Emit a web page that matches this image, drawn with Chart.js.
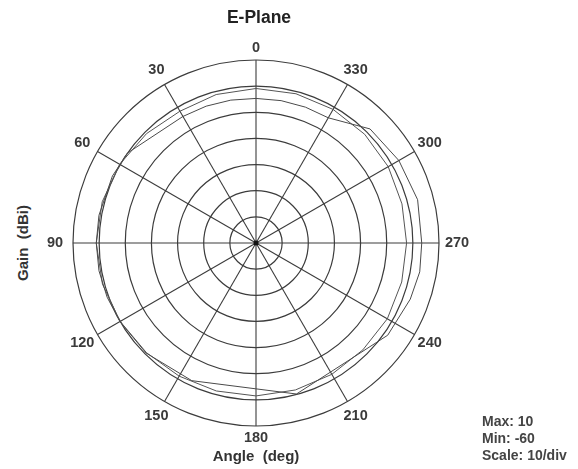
<!DOCTYPE html>
<html>
<head>
<meta charset="utf-8">
<title>E-Plane</title>
<script src="https://cdn.jsdelivr.net/npm/chart.js@4.4.1/dist/chart.umd.min.js"></script>
<style>
    body { margin: 0; background: #fff; width: 578px; height: 469px; overflow: hidden; position: relative;
           font-family: 'Liberation Sans', Arial, sans-serif; color: #333; }
    #wrap { position: absolute; left: 33px; top: 20px; width: 446px; height: 446px; }
    .txt { position: absolute; font-weight: bold; white-space: nowrap; }
    #title { left: 0; width: 518px; top: 7px; text-align: center; font-size: 17.5px; color: #222; }
    #xlabel { left: 0; width: 512px; top: 447px; text-align: center; font-size: 15px; }
    #ylabel { left: 22px; top: 243px; font-size: 15px; transform: translate(-50%, -50%) rotate(-90deg); }
    #info { left: 482px; top: 413px; font-size: 14px; line-height: 17px; color: #444; }
</style>
</head>
<body>
<div id="wrap"><canvas id="polarChart"></canvas></div>
<div class="txt" id="title">E-Plane</div>
<div class="txt" id="xlabel">Angle&nbsp; (deg)</div>
<div class="txt" id="ylabel">Gain&nbsp; (dBi)</div>
<div class="txt" id="info">Max: 10<br>Min: -60<br>Scale: 10/div</div>
<script>
// --- DATOS ---
const stepDeg = 5;                 // resolución angular de la rejilla
const gainMin = -60;
const gainMax = 10;
const gainStep = 10;
const angleTicks = [0, 30, 60, 90, 120, 150, 180, 210, 240, 270, 300, 330];

// Traza A (la de fuera a la derecha, con tramos rectos)
const traceAAngles = [0, 10, 20, 30, 55, 65, 80, 90, 100, 110, 120, 135, 155, 195, 235, 250, 260, 270, 285, 300, 315, 330, 340, 350];
const traceAGain   = [-4.7, -4.5, -4.3, -4.1, 0.0, 0.6, 1.0, 1.1, 1.0, 0.6, 0.1, -0.5, -1.9, -0.2, 1.5, 2.8, 3.6, 3.4, 4.0, 3.1, 1.7, -4.7, -4.7, -4.7];

// Traza B (la de dentro a la derecha)
const traceBAngles = [0, 15, 30, 45, 60, 75, 90, 105, 120, 135, 150, 165, 180, 195, 210, 225, 240, 255, 270, 285, 300, 315, 330, 345];
const traceBGain   = [-0.9, -1.2, -1.8, -0.8, 0.2, 0.9, 1.1, 0.8, 0.0, -0.7, -1.2, -1.4, -1.5, -1.8, -2.0, -2.2, -2.0, -2.3, -2.4, -2.2, -1.6, -1.2, -1.0, -0.9];

// El radar va en sentido horario; los ángulos del gráfico crecen en sentido antihorario
const nSlots = 360 / stepDeg;
const slotAngles = [];
for (let i = 0; i < nSlots; i++) slotAngles.push((360 - i * stepDeg) % 360);
const slotOf = (a) => ((360 - a) % 360) / stepDeg;

function toSlots(angles, gains) {
    const out = new Array(nSlots).fill(null);
    angles.forEach((a, k) => { out[slotOf(a)] = gains[k]; });
    return out;
}

// Punto central + etiquetas de ángulo (posición sacada de la escala radial)
const polarDecor = {
    id: 'polarDecor',
    afterDraw(chart) {
        const r = chart.scales.r;
        const ctx = chart.ctx;
        ctx.save();
        ctx.fillStyle = '#111';
        ctx.beginPath();
        ctx.arc(r.xCenter, r.yCenter, 2.5, 0, Math.PI * 2);
        ctx.fill();

        ctx.font = "bold 14.5px 'Liberation Sans', Arial, sans-serif";
        ctx.fillStyle = '#3a3a3a';
        ctx.textAlign = 'center';
        ctx.textBaseline = 'middle';
        angleTicks.forEach(a => {
            const s = Math.abs(Math.sin(a * Math.PI / 180));
            const p = r.getPointPosition(slotOf(a), r.drawingArea + 12 + 6 * Math.sqrt(s));
            ctx.fillText(String(a), p.x, p.y);
        });
        ctx.restore();
    }
};

function initChart() {
    const ctx = document.getElementById('polarChart').getContext('2d');
    new Chart(ctx, {
        type: 'radar',
        data: {
            labels: slotAngles.map(String),
            datasets: [
                {
                    label: 'A',
                    data: toSlots(traceAAngles, traceAGain),
                    borderColor: '#4a4a4a',
                    borderWidth: 1,
                    pointRadius: 0,
                    fill: false,
                    spanGaps: true,
                    tension: 0
                },
                {
                    label: 'B',
                    data: toSlots(traceBAngles, traceBGain),
                    borderColor: '#555',
                    borderWidth: 1,
                    pointRadius: 0,
                    fill: false,
                    spanGaps: true,
                    tension: 0
                }
            ]
        },
        options: {
            responsive: true,
            maintainAspectRatio: false,
            animation: false,
            layout: { padding: 40 },
            plugins: { legend: { display: false }, tooltip: { enabled: false } },
            scales: {
                r: {
                    min: gainMin,
                    max: gainMax,
                    ticks: { stepSize: gainStep, display: false },
                    grid: { circular: true, color: '#3c3c3c', lineWidth: 1.2 },
                    angleLines: {
                        color: '#3c3c3c',
                        lineWidth: (c) => angleTicks.includes(slotAngles[c.index]) ? 1.1 : 0
                    },
                    pointLabels: { display: false }
                }
            }
        },
        plugins: [polarDecor]
    });
}

window.addEventListener('load', initChart);
</script>
</body>
</html>
